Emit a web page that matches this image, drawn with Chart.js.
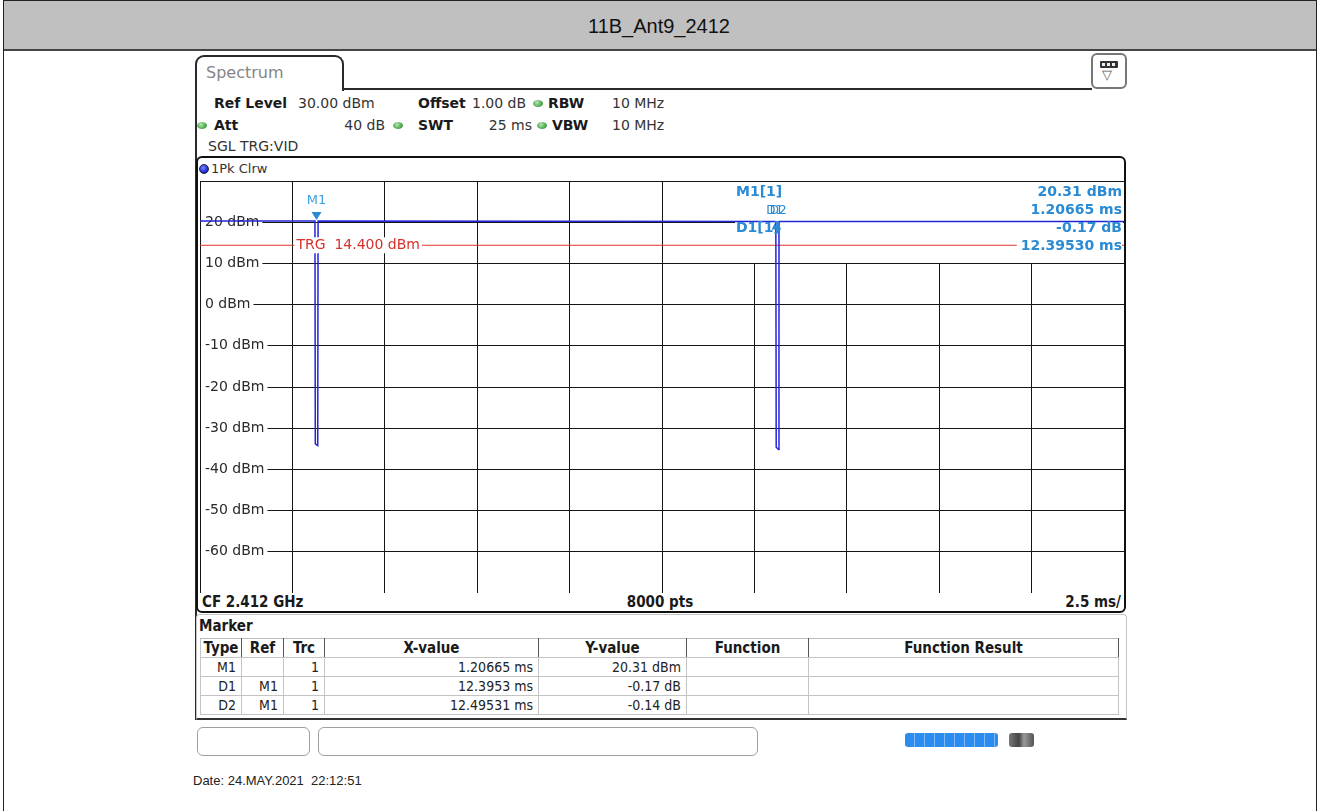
<!DOCTYPE html>
<html>
<head>
<meta charset="utf-8">
<script src="https://cdn.jsdelivr.net/npm/chart.js@4.4.1/dist/chart.umd.min.js"></script>
<style>
  body { margin: 0; width: 1318px; height: 811px; background: #fff; position: relative; overflow: hidden; font-family: "DejaVu Sans", sans-serif; }
  .a { position: absolute; box-sizing: border-box; }
  .t { position: absolute; white-space: pre; height: 18px; line-height: 18px; font-size: 14px; color: #333; }
  .b { font-weight: bold; color: #1a1a1a; }
  .c { font-family: "DejaVu Sans Condensed", "DejaVu Sans", sans-serif; font-size: 15px; color: #1a1a1a; }
  .dot { position: absolute; width: 10px; height: 7px; border-radius: 50%; background: radial-gradient(circle at 40% 35%, #b5e6b5, #3f9e3f 70%); }
  #tbl { position: absolute; left: 200px; top: 638px; border-collapse: collapse; table-layout: fixed; }
  #tbl td { height: 18px; padding: 0 5px 0 0; border: 1px solid #c4c4c4; text-align: right; white-space: nowrap; line-height: 18px;
            font-family: "DejaVu Sans Condensed", "DejaVu Sans", sans-serif; font-size: 14px; color: #222; }
  #tbl tr.h td { text-align: center; padding: 0; font-weight: bold; border-right: 1px solid #555; border-top: 1px solid #bbb; color: #1a1a1a; font-size: 15px; }
</style>
</head>
<body>
<!-- page frame and title -->
<div class="a" style="left:3px;top:0;width:1314px;height:811px;border:1px solid #222;border-bottom:none"></div>
<div class="a" style="left:4px;top:1px;width:1312px;height:50px;background:#c0c0c0;border-bottom:2px solid #444"></div>
<div class="t" style="left:0;width:1318px;top:15px;height:22px;line-height:22px;text-align:center;font-family:'Liberation Sans',Arial,sans-serif;font-size:20px;color:#111">11B_Ant9_2412</div>

<!-- analyzer header -->
<div class="a" style="left:195px;top:55px;width:149px;height:36px;border:2px solid #2a2a2a;border-bottom:none;border-radius:9px 9px 0 0"></div>
<div class="t" style="left:206px;top:64px;font-size:16px;color:#858585">Spectrum</div>
<div class="a" style="left:342px;top:88px;width:750px;height:2px;background:#2a2a2a"></div>
<div class="a" style="left:195px;top:89px;width:2px;height:631px;background:#2a2a2a"></div>
<div class="a" style="left:1091px;top:53px;width:36px;height:36px;border:2px solid #777;border-radius:6px;background:#fff"></div>
<div class="a" style="left:1100px;top:61px;width:18px;height:7px;background:#333;border-radius:1px"></div>
<div class="a" style="left:1102px;top:63px;width:14px;height:3px;background:repeating-linear-gradient(90deg,#eee 0 3px,#333 3px 5px)"></div>
<div class="t" style="left:1102px;top:66px;font-size:13px;color:#555">▽</div>

<div class="t b" style="left:214px;top:94px">Ref Level</div>
<div class="t" style="left:298px;top:94px">30.00 dBm</div>
<div class="t b" style="left:418px;top:94px">Offset</div>
<div class="t" style="left:472px;top:94px">1.00 dB</div>
<div class="dot" style="left:533px;top:100px"></div>
<div class="t b" style="left:548px;top:94px">RBW</div>
<div class="t" style="left:612px;top:94px">10 MHz</div>

<div class="dot" style="left:197px;top:122px"></div>
<div class="t b" style="left:214px;top:116px">Att</div>
<div class="t" style="left:325px;width:60px;text-align:right;top:116px">40 dB</div>
<div class="dot" style="left:393px;top:122px"></div>
<div class="t b" style="left:418px;top:116px">SWT</div>
<div class="t" style="left:472px;width:60px;text-align:right;top:116px">25 ms</div>
<div class="dot" style="left:537px;top:122px"></div>
<div class="t b" style="left:552px;top:116px">VBW</div>
<div class="t" style="left:612px;top:116px">10 MHz</div>

<div class="t" style="left:208px;top:137px">SGL TRG:VID</div>

<!-- diagram frame -->
<div class="a" style="left:196px;top:156px;width:930px;height:457px;border:2px solid #111;border-radius:6px"></div>
<div class="a" style="left:199px;top:164px;width:10px;height:10px;border-radius:50%;background:radial-gradient(circle at 40% 35%,#7a8cff,#1020d0 70%);border:1px solid #223"></div>
<div class="t" style="left:211px;top:160px;font-size:13px">1Pk Clrw</div>
<div class="a" style="left:199px;top:180px;width:925px;height:413px">
  <canvas id="plot" width="925" height="413"></canvas>
</div>
<div class="t c b" style="left:202px;top:593px">CF 2.412 GHz</div>
<div class="t c b" style="left:560px;width:200px;text-align:center;top:593px">8000 pts</div>
<div class="t c b" style="left:920px;width:201px;text-align:right;top:593px">2.5 ms/</div>

<!-- marker table -->
<div class="a" style="left:196px;top:614px;width:931px;height:106px;border:1px solid #c4c4c4;border-bottom:2px solid #333;border-radius:4px 4px 0 0"></div>
<div class="t c b" style="left:199px;top:617px">Marker</div>
<table id="tbl"></table>

<!-- status line -->
<div class="a" style="left:197px;top:727px;width:113px;height:29px;border:1px solid #a0a0a0;border-radius:6px"></div>
<div class="a" style="left:318px;top:727px;width:440px;height:29px;border:1px solid #a0a0a0;border-radius:6px"></div>
<div class="a" style="left:905px;top:733px;width:93px;height:14px;border-radius:3px;background:repeating-linear-gradient(90deg,#2a8cf0 0 9px,#7fbaf5 9px 10px)"></div>
<div class="a" style="left:1009px;top:733px;width:25px;height:14px;border-radius:3px;background:linear-gradient(90deg,#777,#444 40%,#999 60%,#555)"></div>

<div class="t" style="left:193px;top:772px;font-family:'Liberation Sans',Arial,sans-serif;font-size:13px;color:#222">Date: 24.MAY.2021  22:12:51</div>

<script>
// time axis: 2.5 ms/div, 10 divisions, sweep starts before the trigger
const sweepStart = -1.945;   // ms
const divTime = 2.5;         // ms per division
const xDivisions = [0, 1, 2, 3, 4, 5, 6, 7, 8, 9, 10];

// level axis
const yTickValues = [-70, -60, -50, -40, -30, -20, -10, 0, 10, 20, 30];
const yTickLabels = ['', '-60 dBm', '-50 dBm', '-40 dBm', '-30 dBm', '-20 dBm', '-10 dBm', '0 dBm', '10 dBm', '20 dBm', ''];

// trace 1 (1Pk Clrw), ms vs dBm
const traceTime  = [-1.945, 1.165, 1.175, 1.24, 1.25, 13.635, 13.645, 13.71, 13.72, 23.055];
const traceLevel = [20.31, 20.31, -33.8, -34.2, 20.3, 20.2, -34.6, -35.2, 20.17, 20.17];

// video trigger level
const trgLevel = 14.4;

// marker table
const markerType = ['M1', 'D1', 'D2'];
const markerRef = ['', 'M1', 'M1'];
const markerTrc = [1, 1, 1];
const markerX = [1.20665, 12.3953, 12.49531];   // ms (delta markers relative to M1)
const markerY = [20.31, -0.17, -0.14];          // dBm / dB
const markerUnit = ['dBm', 'dB', 'dB'];

const xGridTimes = xDivisions.map(k => sweepStart + k * divTime);
const blue = '#2a8ad4';

// build marker table
const colWidths = [41, 42, 41, 214, 148, 122, 310];
const tbl = document.getElementById('tbl');
const cg = document.createElement('colgroup');
colWidths.forEach(w => { const c = document.createElement('col'); c.style.width = w + 'px'; cg.appendChild(c); });
tbl.appendChild(cg);
function addRow(cells, cls) {
  const tr = document.createElement('tr');
  if (cls) tr.className = cls;
  cells.forEach(v => { const td = document.createElement('td'); td.textContent = v; tr.appendChild(td); });
  tbl.appendChild(tr);
}
addRow(['Type', 'Ref', 'Trc', 'X-value', 'Y-value', 'Function', 'Function Result'], 'h');
markerType.forEach((m, i) => {
  addRow([m, markerRef[i], markerTrc[i], markerX[i] + ' ms', markerY[i].toFixed(2) + ' ' + markerUnit[i], '', '']);
});

// absolute marker positions on the trace
const markerPosX = markerX.map((v, i) => i === 0 ? v : markerX[0] + v);
const markerPosY = markerY.map((v, i) => i === 0 ? v : markerY[0] + v);

const overlay = {
  id: 'overlay',
  beforeDatasetsDraw(chart) {
    // marker info field hides the grid in the upper right
    const { ctx, chartArea: a, scales: { y } } = chart;
    ctx.save();
    ctx.fillStyle = '#fff';
    const left = a.left + 535, top = a.top + 1, bot = Math.floor(y.getPixelForValue(10));
    ctx.fillRect(left, top, a.right - 1 - left, bot - top);
    ctx.restore();
  },
  afterDatasetsDraw(chart) {
    const { ctx, chartArea: a, scales: { x, y } } = chart;
    ctx.save();
    ctx.textBaseline = 'middle';

    // trigger label
    ctx.font = '14px "DejaVu Sans"';
    const trgText = 'TRG  ' + trgLevel.toFixed(3) + ' dBm';
    const tx = x.getPixelForValue(xGridTimes[1]) + 4, ty = y.getPixelForValue(trgLevel);
    const tw = ctx.measureText(trgText).width;
    ctx.fillStyle = '#fff';
    ctx.fillRect(tx - 2, ty - 8, tw + 4, 16);
    ctx.fillStyle = '#d8302a';
    ctx.textAlign = 'left';
    ctx.fillText(trgText, tx, ty);

    // markers on the trace
    markerType.forEach((m, i) => {
      const px = x.getPixelForValue(markerPosX[i]);
      const py = y.getPixelForValue(markerPosY[i]);
      ctx.fillStyle = blue;
      ctx.beginPath();
      if (i === 0) {
        ctx.moveTo(px - 5, py - 9); ctx.lineTo(px + 5, py - 9); ctx.lineTo(px, py - 1);
      } else {
        ctx.moveTo(px - 3, py + 8); ctx.lineTo(px + 3, py + 8); ctx.lineTo(px, py + 2);
      }
      ctx.closePath();
      ctx.fill();
      ctx.font = i === 0 ? '13px "DejaVu Sans"' : '12px "DejaVu Sans"';
      ctx.fillStyle = i === 0 ? '#3d9fdc' : blue;
      ctx.textAlign = 'center';
      ctx.fillText(m, px, i === 0 ? py - 20 : py - 11);
    });

    // marker info field
    ctx.font = 'bold 14px "DejaVu Sans"';
    ctx.fillStyle = blue;
    const lx = a.left + 536, rx = a.right - 2;
    const rows = [a.top + 11, a.top + 29, a.top + 47, a.top + 65];
    ctx.textAlign = 'left';
    ctx.fillText(markerType[0] + '[1]', lx, rows[0]);
    ctx.fillText(markerType[1] + '[1]', lx, rows[2]);
    ctx.textAlign = 'right';
    ctx.fillText(markerY[0].toFixed(2) + ' ' + markerUnit[0], rx, rows[0]);
    ctx.fillText(markerX[0].toFixed(5) + ' ms', rx, rows[1]);
    ctx.fillText(markerY[1].toFixed(2) + ' ' + markerUnit[1], rx, rows[2]);
    const last = markerX[1].toFixed(5) + ' ms';
    const lw = ctx.measureText(last).width;
    ctx.fillStyle = '#fff';
    ctx.fillRect(rx - lw - 4, rows[3] - 8, lw + 4, 16);
    ctx.fillStyle = blue;
    ctx.fillText(last, rx, rows[3]);
    ctx.restore();
  }
};

new Chart(document.getElementById('plot'), {
  type: 'line',
  data: {
    datasets: [
      {
        label: 'Trace 1',
        data: traceTime.map((t, i) => ({ x: t, y: traceLevel[i] })),
        borderColor: '#2424d8',
        borderWidth: 1.5,
        pointRadius: 0,
        tension: 0
      },
      {
        label: 'TRG',
        data: [{ x: xGridTimes[0], y: trgLevel }, { x: xGridTimes[xGridTimes.length - 1], y: trgLevel }],
        borderColor: '#e2352d',
        borderWidth: 1,
        pointRadius: 0
      }
    ]
  },
  options: {
    responsive: false,
    animation: false,
    layout: { padding: { left: 1, top: 1, right: 0, bottom: 0 } },
    plugins: { legend: { display: false }, tooltip: { enabled: false } },
    scales: {
      x: {
        type: 'linear',
        min: xGridTimes[0],
        max: xGridTimes[xGridTimes.length - 1],
        afterBuildTicks: s => { s.ticks = xGridTimes.map(v => ({ value: v })); },
        afterFit: s => { s.height = 0; s.paddingLeft = 0; s.paddingRight = 0; },
        ticks: { display: false },
        grid: { color: '#151515', lineWidth: 1, drawTicks: false },
        border: { display: false }
      },
      y: {
        min: -70,
        max: 30,
        afterBuildTicks: s => { s.ticks = yTickValues.map(v => ({ value: v })); },
        afterFit: s => { s.width = 0; s.paddingTop = 0; s.paddingBottom = 0; },
        grid: { color: '#151515', lineWidth: 1, drawTicks: false },
        border: { display: false },
        ticks: {
          mirror: true,
          padding: 5,
          color: '#2a2a2a',
          font: { family: 'DejaVu Sans', size: 14 },
          callback: v => yTickLabels[yTickValues.indexOf(v)],
          showLabelBackdrop: c => !!c.tick && c.tick.value > -70 && c.tick.value < 30,
          backdropColor: '#fff',
          backdropPadding: { left: 4, right: 3, top: 1, bottom: 1 }
        }
      }
    }
  },
  plugins: [overlay]
});
</script>
</body>
</html>
